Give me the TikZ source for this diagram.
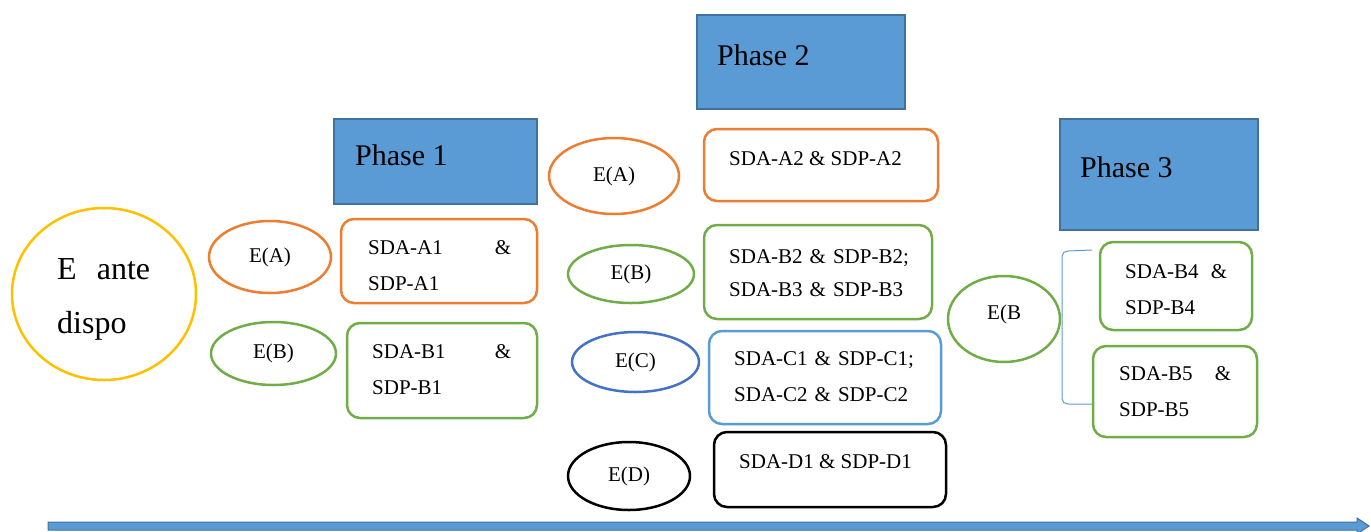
\documentclass[tikz,border=0pt]{standalone}
\usepackage{fontspec}
\setmainfont{Liberation Serif}
\usetikzlibrary{shapes.geometric}
\definecolor{cOrange}{HTML}{ED7D31}
\definecolor{cGreen}{HTML}{70AD47}
\definecolor{cBlue}{HTML}{4472C4}
\definecolor{cLight}{HTML}{5B9BD5}
\definecolor{cYellow}{HTML}{FFC000}
\definecolor{cEdge}{HTML}{41719C}

\begin{document}
\begin{tikzpicture}[x=1pt,y=-1pt]
\tikzstyle{phase}=[rectangle, draw=cEdge, line width=1.5pt, fill=cLight, inner sep=0pt]
\tikzstyle{ent}=[ellipse, line width=2.5pt, inner sep=0pt, font=\fontsize{21}{25}\selectfont]
\tikzstyle{sd}=[rectangle, rounded corners=13pt, line width=2.5pt, inner sep=0pt]
\tikzstyle{txt}=[anchor=base west, inner sep=0pt, align=left, font=\fontsize{21}{36}\selectfont]
\tikzstyle{ptxt}=[anchor=base west, inner sep=0pt, font=\fontsize{30}{36}\selectfont]
\useasboundingbox (0,0) rectangle (1371,531);

% starting set
\node[ellipse, draw=cYellow, line width=2.5pt, minimum width=184pt, minimum height=172pt] (ante) at (104,294) {};
\node[anchor=base west, inner sep=0pt, align=left, text width=93pt, font=\fontsize{32}{54}\selectfont] (antetxt) at (57,279) {E\hfill ante\\dispo};

% phase headers
\node[phase, minimum width=203pt, minimum height=85pt] (ph1) at (435.5,161.5) {};
\node[ptxt] (ph1txt) at (355,165) {Phase 1};
\node[phase, minimum width=208pt, minimum height=94pt] (ph2) at (801,62) {};
\node[ptxt] (ph2txt) at (717,65) {Phase 2};
\node[phase, minimum width=198pt, minimum height=111pt] (ph3) at (1159,174.5) {};
\node[ptxt] (ph3txt) at (1080,177) {Phase 3};

% phase 1
\node[ent, draw=cOrange, minimum width=122pt, minimum height=72pt] (eA1) at (270,257) {E(A)};
\node[ent, draw=cGreen, minimum width=125pt, minimum height=63pt] (eB1) at (273.5,353.5) {E(B)};
\node[sd, draw=cOrange, minimum width=196pt, minimum height=84pt] (sdA1) at (439,261) {};
\node[txt, text width=143pt] (sdA1txt) at (368,254) {SDA-A1\hfill\&\\SDP-A1};
\node[sd, draw=cGreen, minimum width=190pt, minimum height=95pt] (sdB1) at (442,370.5) {};
\node[txt, text width=139pt] (sdB1txt) at (372,358) {SDA-B1\hfill\&\\SDP-B1};

% phase 2
\node[ent, draw=cOrange, minimum width=130pt, minimum height=76pt] (eA2) at (614,176) {E(A)};
\node[ent, draw=cGreen, minimum width=126pt, minimum height=58pt] (eB2) at (631,274) {E(B)};
\node[ent, draw=cBlue, minimum width=127pt, minimum height=60pt] (eC2) at (635.5,362) {E(C)};
\node[ent, draw=black, minimum width=122pt, minimum height=68pt] (eD2) at (629,476) {E(D)};
\node[sd, draw=cOrange, minimum width=234pt, minimum height=72pt] (sdA2) at (821,165) {};
\node[txt] (sdA2txt) at (729,165) {SDA-A2 \& SDP-A2};
\node[sd, draw=cGreen, minimum width=228pt, minimum height=94pt] (sdB2) at (818,272) {};
\node[txt, text width=200pt, font=\fontsize{21}{33}\selectfont] (sdB2txt) at (729,263) {SDA-B2 \& SDP-B2;\\SDA-B3 \& SDP-B3};
\node[sd, draw=cLight, minimum width=232pt, minimum height=93pt] (sdC2) at (825,377.5) {};
\node[txt, text width=200pt] (sdC2txt) at (734,365) {SDA-C1 \& SDP-C1;\\SDA-C2 \& SDP-C2};
\node[sd, draw=black, minimum width=232pt, minimum height=75pt] (sdD2) at (830,469.5) {};
\node[txt] (sdD2txt) at (739,468) {SDA-D1 \& SDP-D1};

% phase 3
\node[ellipse, draw=cGreen, line width=2.5pt, minimum width=112pt, minimum height=86pt] (eB3) at (1004,319) {};
\node[txt] (eB3txt) at (987,319) {E(B};
\node[sd, draw=cGreen, minimum width=152pt, minimum height=88pt] (sdB4) at (1176,286) {};
\node[txt, text width=102pt] (sdB4txt) at (1125,278) {SDA-B4\hfill\&\\SDP-B4};
\node[sd, draw=cGreen, minimum width=164pt, minimum height=91pt] (sdB5) at (1175,391.5) {};
\node[txt, text width=112pt] (sdB5txt) at (1119,380) {SDA-B5\hfill\&\\SDP-B5};
\draw[cLight, line width=1pt] (1092,250) -- (1068,251) to[out=180,in=90] (1062,256)
  -- (1062,399) to[out=-90,in=180] (1068,404) -- (1092,404);

% time axis
\draw[cEdge, fill=cLight, line width=1pt] (48,522) -- (1357,522) -- (1357,518) -- (1369,526)
  -- (1357,534) -- (1357,530) -- (48,530) -- cycle;
\end{tikzpicture}
\end{document}
